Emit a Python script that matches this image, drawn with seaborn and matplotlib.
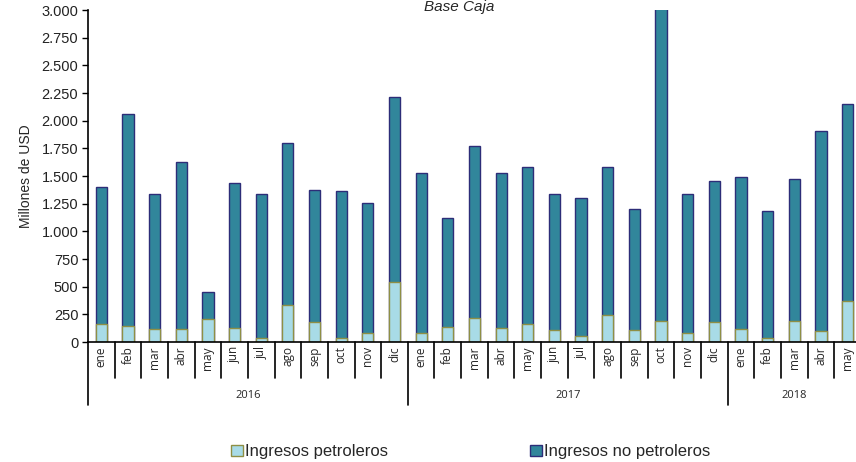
import numpy as np
import pandas as pd
import matplotlib
import matplotlib.pyplot as plt
import matplotlib.ticker as mticker
from matplotlib.patches import Patch
from matplotlib.transforms import blended_transform_factory
import seaborn as sns

# datos (millones de USD)
meses = ['ene', 'feb', 'mar', 'abr', 'may', 'jun', 'jul', 'ago', 'sep', 'oct', 'nov', 'dic',
         'ene', 'feb', 'mar', 'abr', 'may', 'jun', 'jul', 'ago', 'sep', 'oct', 'nov', 'dic',
         'ene', 'feb', 'mar', 'abr', 'may']
anios = ['2016', '2017', '2018']
meses_por_anio = [12, 12, 5]
petroleros = [165, 145, 115, 115, 205, 125, 35, 330, 180, 40, 80, 545,
              85, 140, 215, 125, 160, 110, 50, 240, 105, 190, 85, 180,
              120, 40, 190, 100, 375]
no_petroleros = [1235, 1915, 1225, 1515, 245, 1315, 1305, 1470, 1190, 1325, 1180, 1665,
                 1440, 985, 1560, 1400, 1420, 1225, 1250, 1345, 1100, 2860, 1250, 1275,
                 1375, 1140, 1280, 1805, 1775]

df = pd.DataFrame({'pos': np.arange(len(meses)), 'mes': meses,
                   'petroleros': petroleros, 'no_petroleros': no_petroleros})
df['total'] = df['petroleros'] + df['no_petroleros']

sns.set_style('white')
plt.rcParams['font.family'] = ['Liberation Sans', 'DejaVu Sans']

fig = plt.figure(figsize=(8.56, 4.62), dpi=100)
ax = fig.add_axes([0.1028, 0.2597, 0.903, 0.7186])

c_no = '#31869b'
c_pe = '#a8dbe7'
sns.barplot(data=df, x='pos', y='total', color=c_no, width=0.42, saturation=1,
            edgecolor='#2d2d78', linewidth=1.0, ax=ax)
sns.barplot(data=df, x='pos', y='petroleros', color=c_pe, width=0.42, saturation=1,
            edgecolor='#8f8f45', linewidth=1.0, ax=ax)

ax.set_xlim(-0.5, len(meses) - 0.5)
ax.set_ylim(0, 3000)
ax.set_yticks(np.arange(0, 3001, 250))
ax.yaxis.set_major_formatter(mticker.FuncFormatter(lambda v, p: f'{int(v):,}'.replace(',', '.')))
ax.set_ylabel('Millones de USD', fontsize=10, labelpad=6)
ax.set_xlabel('')

sns.despine(ax=ax, top=True, right=True)
ax.spines['left'].set_color('black')
ax.spines['bottom'].set_color('black')
ax.spines['left'].set_linewidth(1.2)
ax.spines['bottom'].set_linewidth(1.2)
ax.tick_params(axis='y', left=True, length=4, width=1, direction='out', labelsize=10.5,
               pad=3, colors='black', labelcolor='#222222')

ax.set_xticks(np.arange(len(meses)))
ax.set_xticklabels(meses, rotation=90, fontsize=8.5, family=['Open Sans', 'DejaVu Sans'])
ax.tick_params(axis='x', bottom=False, length=0, pad=3)

# separadores de meses y anios
tr = blended_transform_factory(ax.transData, ax.transAxes)
fin = np.cumsum(meses_por_anio)
ini = fin - np.array(meses_por_anio)
for i in range(len(meses) + 1):
    xpos = i - 0.5
    if xpos in (ini - 0.5) or xpos in (fin - 0.5):
        ax.plot([xpos, xpos], [0, -0.19], transform=tr, color='black', lw=1.2, clip_on=False)
    else:
        ax.plot([xpos, xpos], [0, -0.108], transform=tr, color='black', lw=1.2, clip_on=False)
for a, s, e in zip(anios, ini, fin):
    ax.text((s + e - 1) / 2, -0.16, a, transform=tr, ha='center', va='center', fontsize=8,
            family=['Open Sans', 'DejaVu Sans'])

fig.text(0.537, 0.999, 'Base Caja', ha='center', va='top', fontsize=11, style='italic')

handles = [Patch(facecolor=c_pe, edgecolor='#8f8f45', label='Ingresos petroleros'),
           Patch(facecolor=c_no, edgecolor='#2d2d78', label='Ingresos no petroleros')]
fig.legend(handles=handles, loc='center', bbox_to_anchor=(0.55, 0.022), ncol=2, frameon=False,
           handlelength=0.7, handleheight=0.7, handletextpad=0.15, columnspacing=8.5,
           prop={'size': 12})

fig.savefig('out.png', dpi=100)
